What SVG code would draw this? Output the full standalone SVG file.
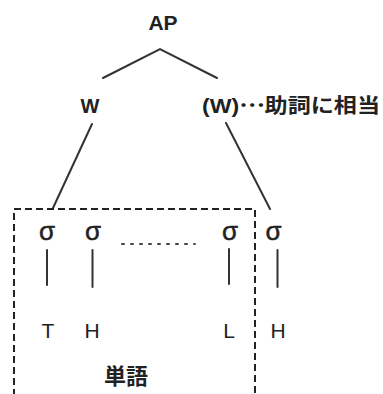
<svg xmlns="http://www.w3.org/2000/svg" width="383" height="394" viewBox="0 0 383 394">
<style>
.ln{stroke:#333;stroke-width:2;fill:none;stroke-linecap:round}
.b{font-family:"Liberation Sans","Noto Sans CJK JP",sans-serif;font-weight:bold;fill:#222}
.r{font-family:"Liberation Sans",sans-serif;fill:#222}
.s{font-family:"Liberation Sans",sans-serif;fill:#222;stroke:#222;stroke-width:0.5;font-size:26px}
.cjk{font-family:"Noto Sans CJK JP","DejaVu Sans",sans-serif}
</style>
<rect width="383" height="394" fill="#fff"/>
<g id="connectors">
<polyline class="ln" points="103,78 160,49 217,78"/>
<line class="ln" x1="92" y1="124" x2="53" y2="208"/>
<line class="ln" x1="226" y1="123" x2="270" y2="209"/>
<line class="ln" x1="47" y1="250" x2="47" y2="285"/>
<line class="ln" x1="92.5" y1="250" x2="92.5" y2="287"/>
<line class="ln" x1="229" y1="249" x2="229" y2="284"/>
<line class="ln" x1="277.5" y1="250" x2="277.5" y2="287"/>
<line x1="122" y1="244" x2="195" y2="244" stroke="#444" stroke-width="2" stroke-dasharray="2 7" stroke-linecap="round"/>
</g>
<g id="word-box">
<polyline points="14,396 14,209 255,209 255,396" fill="none" stroke="#222" stroke-width="2" stroke-dasharray="7 4"/>
</g>
<g id="AP"><text class="b" x="163" y="30" font-size="21" text-anchor="middle">AP</text></g>
<g id="W"><text class="b" x="90" y="113" font-size="20" text-anchor="middle">W</text></g>
<g id="W2"><text class="b" x="202" y="113" font-size="20" textLength="178" lengthAdjust="spacingAndGlyphs">(W)<tspan class="cjk" dy="-6">…</tspan><tspan dy="6">助詞に相当</tspan></text></g>
<g id="s1"><text class="s" x="47" y="240" text-anchor="middle">σ</text></g>
<g id="s2"><text class="s" x="93" y="240" text-anchor="middle">σ</text></g>
<g id="s3"><text class="s" x="230" y="240" text-anchor="middle">σ</text></g>
<g id="s4"><text class="s" x="273.5" y="240" text-anchor="middle">σ</text></g>
<g id="T"><text class="r" x="48" y="338" font-size="21" text-anchor="middle">T</text></g>
<g id="H1"><text class="r" x="92" y="338" font-size="21" text-anchor="middle">H</text></g>
<g id="L"><text class="r" x="229" y="338" font-size="21" text-anchor="middle">L</text></g>
<g id="H2"><text class="r" x="278" y="338" font-size="21" text-anchor="middle">H</text></g>
<g id="tango"><text class="b" x="126" y="384" font-size="22" text-anchor="middle">単語</text></g>
</svg>
